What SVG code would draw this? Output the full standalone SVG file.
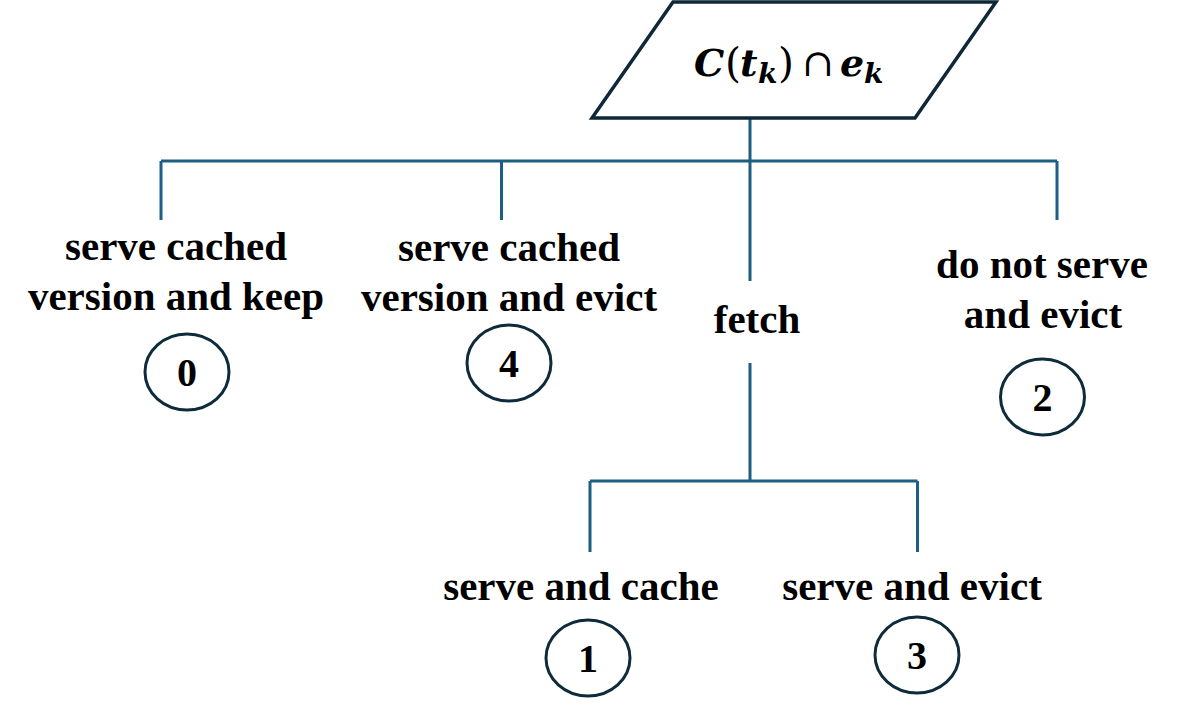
<svg xmlns="http://www.w3.org/2000/svg" width="1186" height="708" viewBox="0 0 1186 708">
<style>
.lbl{font-family:"Liberation Serif","Times New Roman",serif;font-weight:bold;font-size:41px;fill:#000;text-anchor:middle}
.num{font-family:"Liberation Serif","Times New Roman",serif;font-weight:bold;font-size:40px;fill:#000;text-anchor:middle}
.conn{stroke:#1d5f82;stroke-width:3;fill:none}
.oval{stroke:#0e2b3b;stroke-width:3;fill:#fff}
.math{font-family:"DejaVu Serif",serif;font-weight:bold;font-style:italic;fill:#000}
.mr{font-family:"DejaVu Serif",serif;font-weight:normal;font-style:normal;fill:#000}
</style>
<rect width="1186" height="708" fill="#fff"/>
<g id="connectors">
<line class="conn" x1="750" y1="118" x2="750" y2="161"/>
<line class="conn" x1="161" y1="161" x2="1057" y2="161"/>
<line class="conn" x1="161" y1="161" x2="161" y2="220"/>
<line class="conn" x1="501.5" y1="161" x2="501.5" y2="220"/>
<line class="conn" x1="1057" y1="161" x2="1057" y2="220"/>
<line class="conn" x1="750" y1="161" x2="750" y2="281"/>
<line class="conn" x1="750" y1="363" x2="750" y2="481"/>
<line class="conn" x1="590" y1="481" x2="917.5" y2="481"/>
<line class="conn" x1="590" y1="481" x2="590" y2="552"/>
<line class="conn" x1="917.5" y1="481" x2="917.5" y2="552"/>
</g>
<g id="condition">
<polygon points="673,2 996,2 915,118 592,118" fill="#fff" stroke="#0e2838" stroke-width="3.5" stroke-linejoin="miter"/>
<text y="76" font-size="38"><tspan class="math" x="694">C</tspan><tspan class="mr" x="725" y="77" font-size="41">(</tspan><tspan class="math" x="740" y="76">t</tspan><tspan class="math" x="758" y="83" font-size="28">k</tspan><tspan class="mr" x="778" y="77" font-size="41">)</tspan><tspan class="mr" x="802" y="76">∩</tspan><tspan class="math" x="840">e</tspan><tspan class="math" x="864" y="83" font-size="28">k</tspan></text>
</g>
<g id="node-0">
<text class="lbl" x="176" y="260">serve cached</text>
<text class="lbl" x="176" y="310">version and keep</text>
<ellipse class="oval" cx="187" cy="372" rx="42" ry="38"/>
<text class="num" x="187" y="386">0</text>
</g>
<g id="node-4">
<text class="lbl" x="509" y="261">serve cached</text>
<text class="lbl" x="509" y="311">version and evict</text>
<ellipse class="oval" cx="509" cy="363" rx="42" ry="38"/>
<text class="num" x="509" y="377">4</text>
</g>
<g id="node-fetch">
<text class="lbl" x="757" y="333">fetch</text>
</g>
<g id="node-2">
<text class="lbl" x="1042" y="278">do not serve</text>
<text class="lbl" x="1043" y="328">and evict</text>
<ellipse class="oval" cx="1042.5" cy="397" rx="42" ry="38"/>
<text class="num" x="1042.5" y="411">2</text>
</g>
<g id="node-1">
<text class="lbl" x="581" y="600">serve and cache</text>
<ellipse class="oval" cx="588" cy="658" rx="42" ry="38"/>
<text class="num" x="588" y="672">1</text>
</g>
<g id="node-3">
<text class="lbl" x="912" y="600">serve and evict</text>
<ellipse class="oval" cx="917" cy="655" rx="42" ry="38"/>
<text class="num" x="917" y="669">3</text>
</g>
</svg>
